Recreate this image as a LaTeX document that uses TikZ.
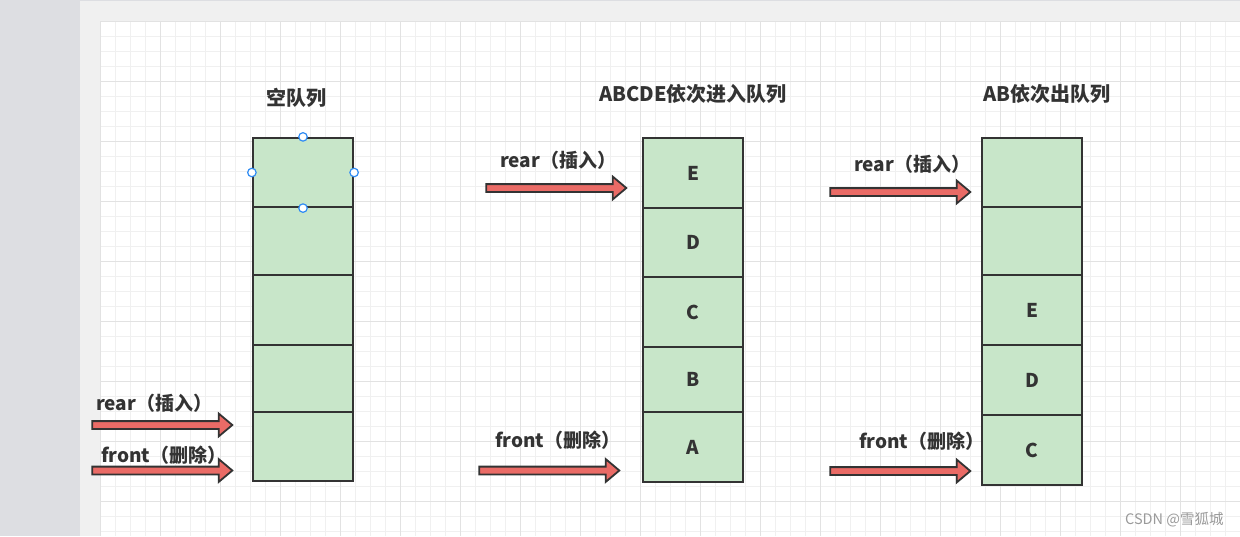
\documentclass[tikz,border=0pt]{standalone}
\usepackage{fontspec}
\setmainfont{Noto Sans CJK SC}
\usepackage{xcolor}
\definecolor{qgreen}{HTML}{C8E6C9}
\definecolor{qred}{HTML}{EA6B66}
\definecolor{qdark}{HTML}{333333}
\definecolor{qblue}{HTML}{2F8CF4}
\definecolor{deskgray}{HTML}{DDDEE2}
\definecolor{pagegray}{HTML}{F0F0F0}
\definecolor{gridlo}{HTML}{F0F0F0}
\definecolor{gridhi}{HTML}{E2E2E2}
\definecolor{wmgray}{HTML}{9A9A9A}
\usetikzlibrary{shapes.arrows}
\tikzset{
    cell/.style = {rectangle, draw=qdark, fill=qgreen, line width=2.2pt,
                   minimum width=100pt, inner sep=0pt, text=qdark,
                   font=\fontsize{19}{20}\selectfont\bfseries},
    blockarrow/.style = {single arrow, draw=qdark, fill=qred, line width=1.8pt,
                         minimum height=140pt, minimum width=20pt,
                         inner xsep=0pt, inner ysep=3pt,
                         single arrow head extend=7.5pt, single arrow tip angle=80},
    lbl/.style = {anchor=west, inner sep=0pt, text=qdark,
                  font=\fontsize{19}{20}\selectfont\bfseries},
    ttl/.style = {inner sep=0pt, text=qdark, font=\fontsize{20}{22}\selectfont\bfseries},
    handle/.style = {circle, draw=qblue, fill=white, line width=1.2pt,
                     minimum size=8.5pt, inner sep=0pt},
    minorline/.style = {draw=gridlo, line width=1pt},
    majorline/.style = {draw=gridhi, line width=1pt},
}

\begin{document}
\begin{tikzpicture}[x=1pt, y=-1pt]
        \useasboundingbox (0,0) rectangle (1240,536);
        % Background and drawing grid
        \fill[deskgray] (0,0) rectangle (1240,536);
        \fill[pagegray] (80,1) rectangle (1240,536);
        \fill[white] (100,21) rectangle (1240,536);
        \foreach \x in {100,115,...,1240} \draw[minorline] (\x,21) -- (\x,536);
        \foreach \y in {21,36,...,536} \draw[minorline] (100,\y) -- (1240,\y);
        \foreach \x in {100,160,...,1240} \draw[majorline] (\x,21) -- (\x,536);
        \foreach \y in {21,81,...,536} \draw[majorline] (100,\y) -- (1240,\y);
        % Titles
        \node[ttl] (t1) at (296,98) {空队列};
        \node[ttl] (t2) at (693,94) {ABCDE依次进入队列};
        \node[ttl] (t3) at (1047,94) {AB依次出队列};
        % Empty queue
        \foreach \n/\a/\b in {1/138/207, 2/207/275, 3/275/345, 4/345/412, 5/412/481}
            \node[cell, minimum height={(\b-\a)*1pt}] (L\n) at (303,{(\a+\b)/2}) {};
        \node[handle] (h1) at (L1.north) {};
        \node[handle] (h2) at (L1.west) {};
        \node[handle] (h3) at (L1.east) {};
        \node[handle] (h4) at (L1.south) {};
        \node[blockarrow] (ar1) at (160,425) {};
        \node[blockarrow] (af1) at (160,470.5) {};
        \node[lbl] (lr1) at (96,403) {rear（插入）};
        \node[lbl] (lf1) at (101,455) {front（删除）};
        % After ABCDE enter
        \foreach \n/\a/\b/\t in {1/138/208/E, 2/208/277/D, 3/277/347/C, 4/347/412/B, 5/412/482/A}
            \node[cell, minimum height={(\b-\a)*1pt}] (M\n) at (693,{(\a+\b)/2}) {\t};
        \node[blockarrow] (ar2) at (554,188) {};
        \node[blockarrow] (af2) at (547,470.5) {};
        \node[lbl] (lr2) at (500,160) {rear（插入）};
        \node[lbl] (lf2) at (495,440) {front（删除）};
        % After AB leave
        \foreach \n/\a/\b/\t in {1/138/207/{}, 2/207/275/{}, 3/275/345/E, 4/345/415/D, 5/415/485/C}
            \node[cell, minimum height={(\b-\a)*1pt}] (R\n) at (1032,{(\a+\b)/2}) {\t};
        \node[blockarrow] (ar3) at (898,192) {};
        \node[blockarrow] (af3) at (898,471) {};
        \node[lbl] (lr3) at (854,164) {rear（插入）};
        \node[lbl] (lf3) at (859,441) {front（删除）};
        % Watermark
        \node[anchor=west, inner sep=0pt, text=wmgray, font=\fontsize{14.5}{16}\selectfont]
              (wm) at (1125,520) {CSDN @雪狐城};
\end{tikzpicture}
\end{document}
